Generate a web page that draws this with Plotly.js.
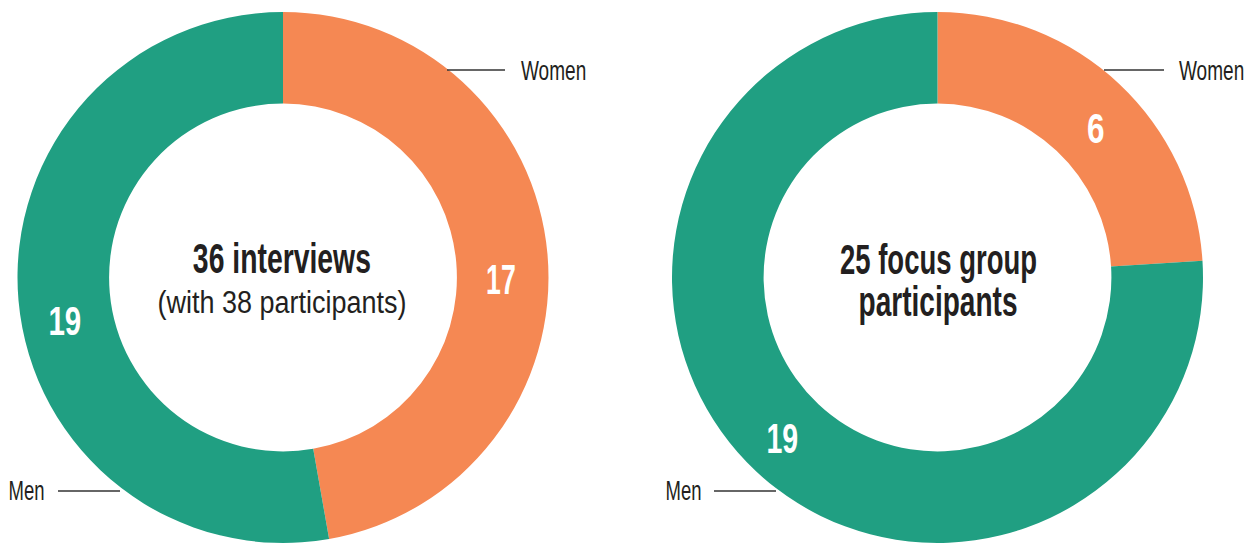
<!DOCTYPE html>
<html>
<head>
<meta charset="utf-8">
<script src="https://cdn.plot.ly/plotly-3.0.1.min.js"></script>
<style>
  html, body { margin: 0; padding: 0; background: #ffffff; }
  #chart { width: 1256px; height: 543px; }
</style>
</head>
<body>
<div id="chart"></div>
<script>
// ---- data ----
const categories = ['Women', 'Men'];
const interviewValues = [17, 19];
const focusGroupValues = [6, 19];
const interviewTitleBold = '36 interviews';
const interviewTitleSub = '(with 38 participants)';
const focusTitleLine1 = '25 focus group';
const focusTitleLine2 = 'participants';

// ---- style ----
const colors = ['#F58853', '#209F82'];
const FONT = '"Liberation Sans", Arial, sans-serif';
const W = 1256, H = 543;

function pieTrace(values, domainX) {
  return {
    type: 'pie',
    labels: categories,
    values: values,
    sort: false,
    direction: 'clockwise',
    rotation: 0,
    hole: 0.655,
    domain: { x: domainX, y: [0, 0.978] },
    marker: { colors: colors, line: { width: 0 } },
    textinfo: 'none',
    showlegend: false,
    hoverinfo: 'label+value'
  };
}

const px = x => x / W;
const py = y => 1 - y / H;

const lineStyle = { color: '#333333', width: 1.5 };
const shapes = [
  { type: 'line', xref: 'paper', yref: 'paper', x0: px(447), x1: px(505), y0: py(70), y1: py(70), line: lineStyle },
  { type: 'line', xref: 'paper', yref: 'paper', x0: px(58), x1: px(120), y0: py(491), y1: py(491), line: lineStyle },
  { type: 'line', xref: 'paper', yref: 'paper', x0: px(1104), x1: px(1164), y0: py(70), y1: py(70), line: lineStyle },
  { type: 'line', xref: 'paper', yref: 'paper', x0: px(714), x1: px(776), y0: py(491), y1: py(491), line: lineStyle }
];

const annScale = [];
function label(text, x, y, anchor, size, bold, color, sx) {
  annScale.push({ sx: sx, anchor: anchor });
  return {
    xref: 'paper', yref: 'paper', x: px(x), y: py(y),
    xanchor: anchor, yanchor: 'middle', showarrow: false,
    text: bold ? '<b>' + text + '</b>' : text,
    font: { family: FONT, size: size, color: color || '#231f20' }
  };
}

const WHITE = '#ffffff';
const annotations = [
  label(categories[0], 519, 70, 'left', 28, false, null, 0.68),
  label(categories[1], 46, 490, 'right', 28, false, null, 0.66),
  label(categories[0], 1177, 70, 'left', 28, false, null, 0.68),
  label(categories[1], 703, 490, 'right', 28, false, null, 0.66),
  label(interviewTitleBold, 282, 258, 'center', 42, true, null, 0.675),
  label(interviewTitleSub, 282, 302, 'center', 31, false, null, 0.87),
  label(focusTitleLine1, 938, 259, 'center', 42, true, null, 0.655),
  label(focusTitleLine2, 938, 301, 'center', 42, true, null, 0.668),
  label(String(interviewValues[0]), 501, 279, 'center', 43, true, WHITE, 0.62),
  label(String(interviewValues[1]), 65, 321, 'center', 41, true, WHITE, 0.72),
  label(String(focusGroupValues[0]), 1095, 128, 'center', 42, true, WHITE, 0.75),
  label(String(focusGroupValues[1]), 782, 438, 'center', 42, true, WHITE, 0.68)
];

const data = [
  pieTrace(interviewValues, [px(283 - 265.5), px(283 + 265.5)]),
  pieTrace(focusGroupValues, [px(937.5 - 265.5), px(937.5 + 265.5)])
];

const layout = {
  width: W, height: H,
  margin: { l: 0, r: 0, t: 0, b: 0 },
  paper_bgcolor: '#ffffff',
  plot_bgcolor: '#ffffff',
  shapes: shapes,
  annotations: annotations,
  font: { family: FONT }
};

Plotly.newPlot('chart', data, layout, { displayModeBar: false, staticPlot: true }).then(function (gd) {
  // emulate the condensed typeface of the original by narrowing text horizontally
  const groups = gd.querySelectorAll('g.annotation');
  groups.forEach(function (g) {
    const idx = +g.getAttribute('data-index');
    const cfg = annScale[idx];
    const t = g.querySelector('text.annotation-text');
    if (!t || !cfg) return;
    const bb = t.getBBox();
    let ox = bb.x + bb.width / 2;
    if (cfg.anchor === 'left') ox = bb.x;
    if (cfg.anchor === 'right') ox = bb.x + bb.width;
    const prev = t.getAttribute('transform') || '';
    t.setAttribute('transform', prev + ' translate(' + ox + ',0) scale(' + cfg.sx + ',1) translate(' + (-ox) + ',0)');
  });
});
</script>
</body>
</html>
